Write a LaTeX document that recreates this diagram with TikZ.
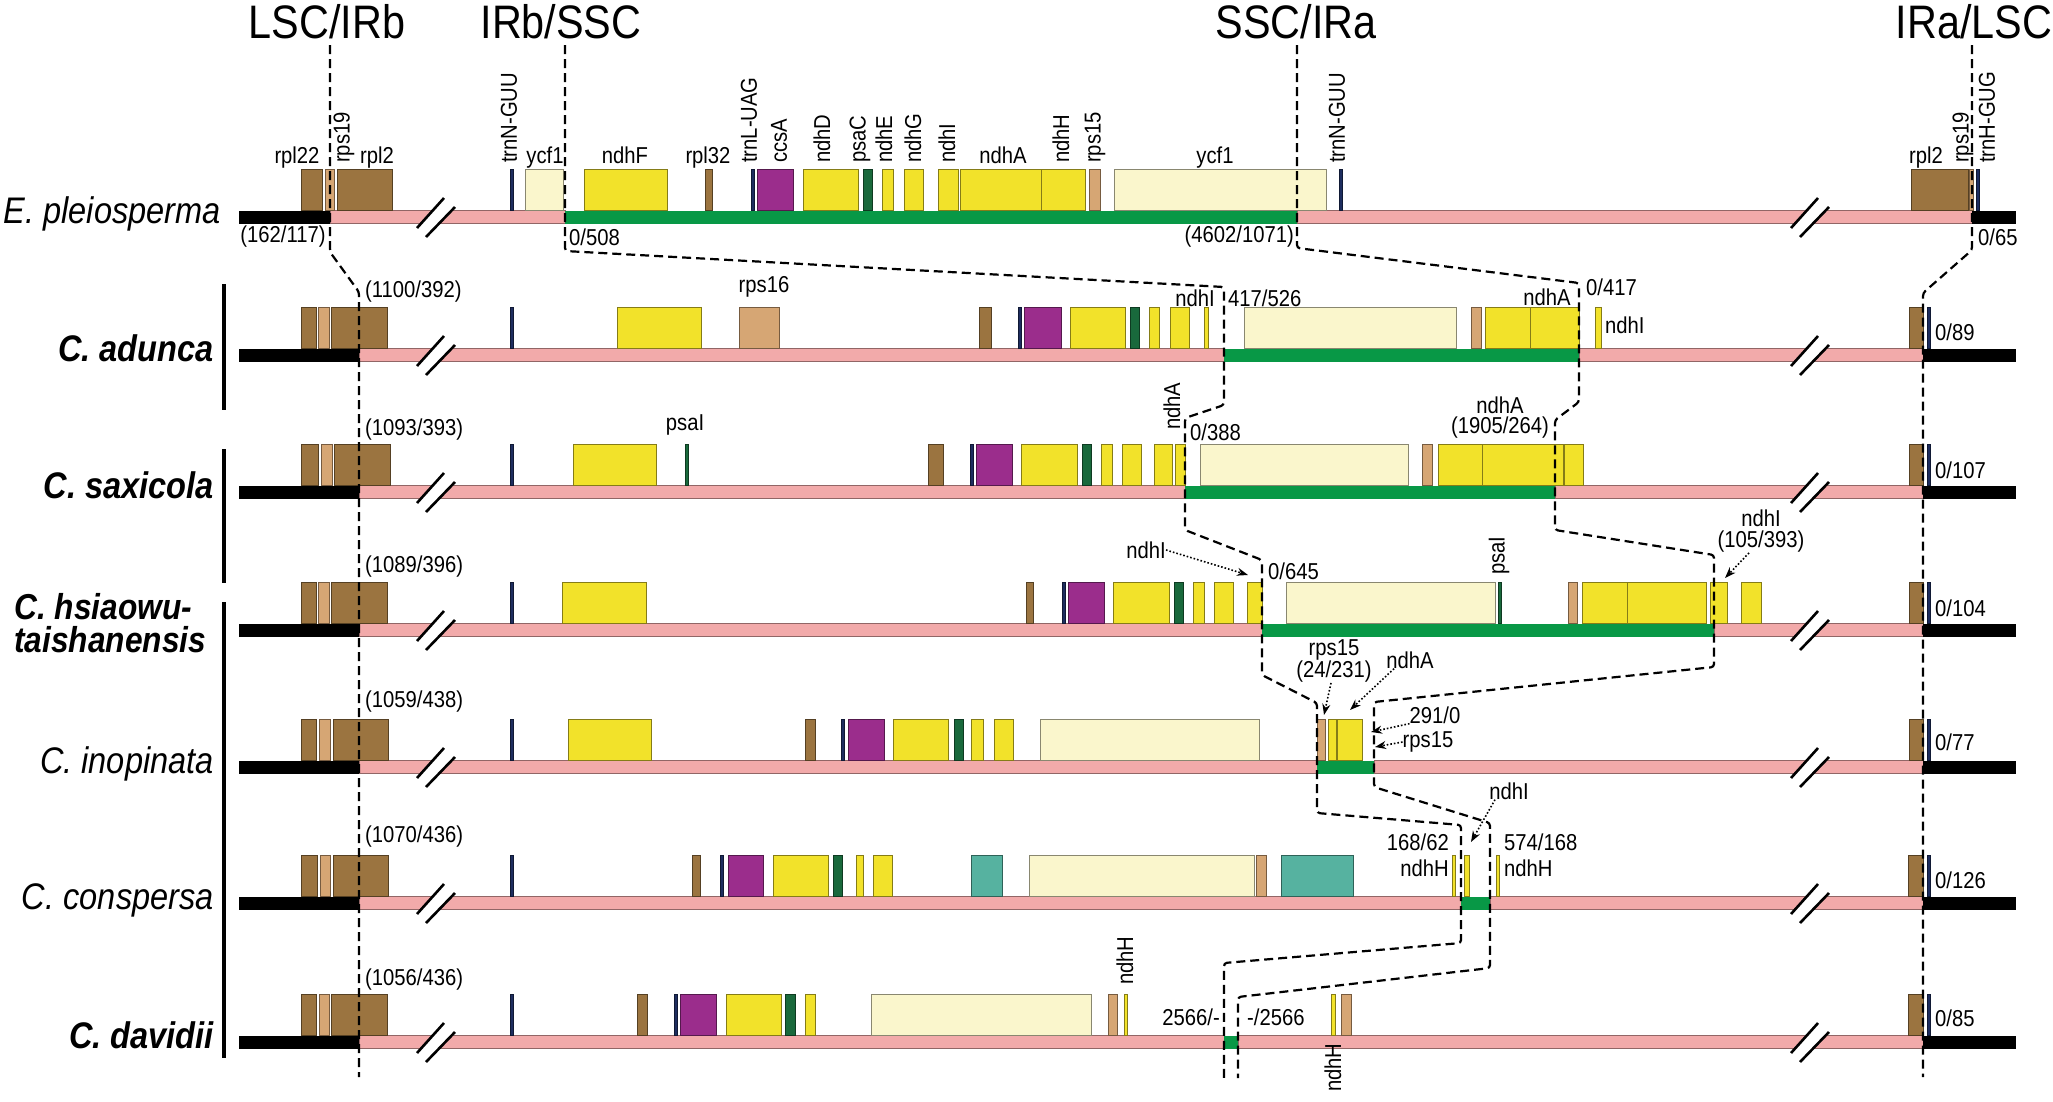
\documentclass[tikz,border=0pt]{standalone}
\usepackage{fontspec}
\setmainfont{Liberation Sans}[FakeStretch=0.88]
\usetikzlibrary{arrows.meta}

\definecolor{genebrown}{RGB}{155,116,64}
\definecolor{genetan}{RGB}{214,166,116}
\definecolor{genenavy}{RGB}{30,45,95}
\definecolor{genepale}{RGB}{250,246,204}
\definecolor{geneyellow}{RGB}{242,226,42}
\definecolor{genepurple}{RGB}{155,45,140}
\definecolor{genedkgreen}{RGB}{25,105,60}
\definecolor{geneteal}{RGB}{86,178,160}
\definecolor{irpink}{RGB}{242,170,170}
\definecolor{sscgreen}{RGB}{8,152,70}

\tikzset{
	lbl/.style={font=\fontsize{23}{26}\selectfont, inner sep=0pt},
	vlbl/.style={lbl, rotate=90, anchor=west},
	region/.style={font=\fontsize{47}{52}\selectfont, anchor=base, inner sep=0pt},
	species/.style={font=\fontsize{37}{40}\selectfont\itshape, anchor=base east, inner sep=0pt},
	boldspecies/.style={species, font=\fontsize{37}{40}\selectfont\bfseries\itshape},
	junction/.style={line width=2.2pt, dash pattern=on 9pt off 5pt, rounded corners=3pt},
	pointer/.style={line width=1.6pt, dotted, -{Stealth[length=11pt,width=8pt]}},
	group/.style={line width=3.2pt},
}

% gene boxes of one row: left/right/colour
\newcommand{\genes}[1]{\foreach \ga/\gb/\gc in {#1}{\filldraw[fill=\gc, draw=\gc!55!black, line width=0.5pt] (\ga,-6.5) rectangle (\gb,-48);}}
% break mark on the strand
\newcommand{\cut}[1]{%
	\fill[white] (#1-18,11) -- (#1+9,-19) -- (#1+20,-10) -- (#1-9,20) -- cycle;
	\draw[line width=2.6pt] (#1-18,11) -- (#1+9,-19) (#1-9,20) -- (#1+20,-10);}
% LSC | IRb | SSC | IRa | LSC
\newcommand{\strand}[4]{%
	\fill (239,-6.5) rectangle (#1,6.5);
	\filldraw[fill=irpink, draw=irpink!60!black, line width=0.5pt] (#1,-6.5) rectangle (#2,6.5);
	\fill[sscgreen] (#2,-6.5) rectangle (#3,6.5);
	\filldraw[fill=irpink, draw=irpink!60!black, line width=0.5pt] (#3,-6.5) rectangle (#4,6.5);
	\fill (#4,-6.5) rectangle (2016,6.5);
	\cut{435}\cut{1809}}

\begin{document}
\begin{tikzpicture}[x=1pt, y=-1pt]
	\useasboundingbox (0,0) rectangle (2053,1101);

	\node[region] (lscirb) at (327,38) {LSC/IRb};
	\node[region] (irbssc) at (561,38) {IRb/SSC};
	\node[region] (sscira) at (1296,38) {SSC/IRa};
	\node[region] (iralsc) at (1974,38) {IRa/LSC};

	\node[species] (pleio) at (221,223) {E. pleiosperma};
	\node[boldspecies] (adunca) at (214,361) {C. adunca};
	\node[boldspecies] (saxicola) at (214,498) {C. saxicola};
	\node[boldspecies, anchor=base west, font=\fontsize{36}{40}\selectfont\bfseries\itshape] (hsiao1) at (14,619) {C. hsiaowu-};
	\node[boldspecies, anchor=base west, font=\fontsize{36}{40}\selectfont\bfseries\itshape] (hsiao2) at (14,652) {taishanensis};
	\node[species] (inopinata) at (214,773) {C. inopinata};
	\node[species] (conspersa) at (214,909) {C. conspersa};
	\node[boldspecies] (davidii) at (214,1048) {C. davidii};

	\draw[group] (224,284) -- (224,410);
	\draw[group] (224,449) -- (224,583);
	\draw[group] (224,602) -- (224,1058);

	% E. pleiosperma
	\begin{scope}[shift={(0,217)}]
		\strand{330}{565}{1297}{1972}
		\genes{301/322/genebrown, 325/334/genetan, 337/392/genebrown, 510/513/genenavy, 525/563/genepale, 584/667/geneyellow, 705/712/genebrown, 751/754/genenavy, 757/793/genepurple, 803/858/geneyellow, 863/872/genedkgreen, 882/893/geneyellow, 904/923/geneyellow, 938/958/geneyellow, 960/1041/geneyellow, 1041/1085/geneyellow, 1089/1100/genetan, 1114/1326/genepale, 1339/1342/genenavy, 1911/1968/genebrown, 1969/1973/genetan, 1976/1979/genenavy}
		\foreach \x/\gname [count=\i] in {297/rpl22, 377/rpl2, 545/ycf1, 625/ndhF, 708/rpl32, 1003/ndhA, 1215/ycf1, 1926/rpl2}
			\node[lbl, anchor=base] (e-h\i) at (\x,-54) {\gname};
		\foreach \x/\gname [count=\i] in {344/rps19, 509/trnN-GUU, 749/trnL-UAG, 779/ccsA, 822/ndhD, 860/psaC, 884/ndhE, 913/ndhG, 947/ndhI, 1061/ndhH, 1095/rps15, 1337/trnN-GUU, 1963/rps19, 1987/trnH-GUG}
			\node[vlbl] (e-v\i) at (\x,-54) {\gname};
		\node[lbl] (e-n1) at (283,20) {(162/117)};
		\node[lbl, anchor=west] (e-n2) at (569,20) {0/508};
		\node[lbl, anchor=east] (e-n3) at (1294,20) {(4602/1071)};
		\node[lbl, anchor=west] (e-n4) at (1978,20) {0/65};
	\end{scope}

	% C. adunca
	\begin{scope}[shift={(0,355)}]
		\strand{359}{1224}{1579}{1923}
		\genes{301/316/genebrown, 318/329/genetan, 331/387/genebrown, 510/513/genenavy, 617/701/geneyellow, 739/779/genetan, 979/991/genebrown, 1018/1021/genenavy, 1024/1061/genepurple, 1070/1125/geneyellow, 1130/1139/genedkgreen, 1149/1159/geneyellow, 1170/1189/geneyellow, 1204/1208/geneyellow, 1244/1456/genepale, 1471/1481/genetan, 1485/1530/geneyellow, 1530/1579/geneyellow, 1595/1601/geneyellow, 1909/1923/genebrown, 1927/1930/genenavy}
		\node[lbl, anchor=west] (a-n1) at (365,-63) {(1100/392)};
		\node[lbl] (a-rps16) at (764,-68) {rps16};
		\node[lbl, anchor=east] (a-ndhI1) at (1215,-57) {ndhI};
		\node[lbl, anchor=west] (a-n2) at (1228,-57) {417/526};
		\node[lbl] (a-ndhA) at (1547,-58) {ndhA};
		\node[lbl, anchor=west] (a-n3) at (1586,-68) {0/417};
		\node[lbl, anchor=west] (a-ndhI2) at (1605,-30) {ndhI};
		\node[lbl, anchor=west] (a-n4) at (1935,-23) {0/89};
	\end{scope}

	% C. saxicola
	\begin{scope}[shift={(0,492)}]
		\strand{359}{1185}{1555}{1923}
		\genes{301/318/genebrown, 321/332/genetan, 334/390/genebrown, 510/513/genenavy, 573/656/geneyellow, 685/688/genedkgreen, 928/943/genebrown, 970/973/genenavy, 976/1012/genepurple, 1021/1077/geneyellow, 1082/1091/genedkgreen, 1101/1112/geneyellow, 1122/1141/geneyellow, 1154/1172/geneyellow, 1175/1185/geneyellow, 1200/1408/genepale, 1422/1432/genetan, 1438/1482/geneyellow, 1482/1563/geneyellow, 1564/1583/geneyellow, 1909/1923/genebrown, 1927/1930/genenavy}
		\node[lbl, anchor=west] (s-n1) at (365,-62) {(1093/393)};
		\node[lbl] (s-psaI) at (685,-67) {psaI};
		\node[vlbl] (s-ndhA1) at (1172,-62) {ndhA};
		\node[lbl, anchor=west] (s-n2) at (1190,-60) {0/388};
		\node[lbl] (s-ndhA2) at (1500,-87) {ndhA};
		\node[lbl] (s-n3) at (1500,-64) {(1905/264)};
		\node[lbl, anchor=west] (s-n4) at (1935,-22) {0/107};
	\end{scope}

	% C. hsiaowu-taishanensis
	\begin{scope}[shift={(0,630)}]
		\strand{359}{1262}{1714}{1923}
		\genes{301/316/genebrown, 318/329/genetan, 331/387/genebrown, 510/513/genenavy, 562/646/geneyellow, 1026/1033/genebrown, 1062/1065/genenavy, 1068/1104/genepurple, 1113/1169/geneyellow, 1174/1183/genedkgreen, 1193/1204/geneyellow, 1214/1233/geneyellow, 1247/1262/geneyellow, 1286/1495/genepale, 1498/1501/genedkgreen, 1568/1577/genetan, 1582/1627/geneyellow, 1627/1706/geneyellow, 1710/1727/geneyellow, 1741/1761/geneyellow, 1909/1923/genebrown, 1927/1930/genenavy}
		\node[lbl, anchor=west] (h-n1) at (365,-63) {(1089/396)};
		\node[lbl, anchor=east] (h-ndhI1) at (1166,-80) {ndhI};
		\coordinate (h-tip1) at (1248,-55);
		\node[lbl, anchor=west] (h-n2) at (1268,-59) {0/645};
		\node[vlbl] (h-psaI) at (1499,-55) {psaI};
		\node[lbl] (h-ndhI2) at (1761,-112) {ndhI};
		\node[lbl] (h-n3) at (1761,-88) {(105/393)};
		\coordinate (h-tip2) at (1725,-52);
		\node[lbl, anchor=west] (h-n4) at (1935,-22) {0/104};
		\draw[pointer] (h-ndhI1.east) -- (h-tip1);
		\draw[pointer] ([xshift=-12pt]h-n3.south) -- (h-tip2);
	\end{scope}

	% C. inopinata
	\begin{scope}[shift={(0,767)}]
		\strand{359}{1317}{1374}{1923}
		\genes{301/316/genebrown, 319/330/genetan, 333/388/genebrown, 510/513/genenavy, 568/651/geneyellow, 805/815/genebrown, 841/844/genenavy, 848/884/genepurple, 893/948/geneyellow, 954/963/genedkgreen, 971/983/geneyellow, 994/1013/geneyellow, 1040/1259/genepale, 1317/1325/genetan, 1328/1336/geneyellow, 1337/1362/geneyellow, 1909/1923/genebrown, 1927/1930/genenavy}
		\node[lbl, anchor=west] (i-n1) at (365,-65) {(1059/438)};
		\node[lbl] (i-rps15a) at (1334,-117) {rps15};
		\node[lbl] (i-n2) at (1334,-95) {(24/231)};
		\coordinate (i-tip1) at (1324,-52);
		\node[lbl] (i-ndhA) at (1410,-107) {ndhA};
		\coordinate (i-tip2) at (1350,-57);
		\node[lbl] (i-n3) at (1435,-52) {291/0};
		\coordinate (i-tip3) at (1371,-35);
		\node[lbl] (i-rps15b) at (1428,-25) {rps15};
		\coordinate (i-tip4) at (1375,-20);
		\node[lbl, anchor=west] (i-n4) at (1935,-25) {0/77};
		\draw[pointer] ([xshift=-3pt]i-n2.south) -- (i-tip1);
		\draw[pointer] ([xshift=-16pt]i-ndhA.south) -- (i-tip2);
		\draw[pointer] (i-n3.south west) -- (i-tip3);
		\draw[pointer] (i-rps15b.west) -- (i-tip4);
	\end{scope}

	% C. conspersa
	\begin{scope}[shift={(0,903)}]
		\strand{359}{1461}{1490}{1923}
		\genes{301/317/genebrown, 320/330/genetan, 333/388/genebrown, 510/513/genenavy, 692/700/genebrown, 720/723/genenavy, 728/763/genepurple, 773/828/geneyellow, 833/842/genedkgreen, 856/863/geneyellow, 873/892/geneyellow, 971/1002/geneteal, 1029/1254/genepale, 1256/1266/genetan, 1281/1353/geneteal, 1452/1455/geneyellow, 1464/1469/geneyellow, 1496/1499/geneyellow, 1908/1923/genebrown, 1927/1930/genenavy}
		\node[lbl, anchor=west] (c-n1) at (365,-66) {(1070/436)};
		\node[lbl, anchor=east] (c-n2) at (1449,-61) {168/62};
		\node[lbl, anchor=east] (c-ndhH1) at (1449,-35) {ndhH};
		\node[lbl, anchor=west] (c-n3) at (1504,-61) {574/168};
		\node[lbl, anchor=west] (c-ndhH2) at (1504,-35) {ndhH};
		\node[lbl] (c-ndhI) at (1509,-112) {ndhI};
		\coordinate (c-tip) at (1471,-61);
		\node[lbl, anchor=west] (c-n4) at (1935,-23) {0/126};
		\draw[pointer] ([xshift=-14pt]c-ndhI.south) -- (c-tip);
	\end{scope}

	% C. davidii
	\begin{scope}[shift={(0,1042)}]
		\strand{359}{1224}{1238}{1923}
		\genes{301/316/genebrown, 319/329/genetan, 331/387/genebrown, 510/513/genenavy, 637/647/genebrown, 674/677/genenavy, 680/716/genepurple, 726/781/geneyellow, 785/795/genedkgreen, 805/815/geneyellow, 871/1091/genepale, 1108/1117/genetan, 1124/1127/geneyellow, 1331/1335/geneyellow, 1341/1351/genetan, 1908/1923/genebrown, 1927/1930/genenavy}
		\node[lbl, anchor=west] (d-n1) at (365,-62) {(1056/436)};
		\node[vlbl] (d-ndhH1) at (1125,-57) {ndhH};
		\node[lbl, anchor=east] (d-n2) at (1220,-25) {2566/-};
		\node[lbl, anchor=west] (d-n3) at (1247,-25) {-/2566};
		\node[vlbl] (d-ndhH2) at (1333,50) {ndhH};
		\node[lbl, anchor=west] (d-n4) at (1935,-24) {0/85};
	\end{scope}

	% junctions
	\draw[junction] (330,45) -- (330,252) -- (359,292) -- (359,1077);
	\draw[junction] (565,45) -- (565,251) -- (1224,287) -- (1224,405) -- (1185,418) -- (1185,530) -- (1262,560) -- (1262,675) -- (1317,703) -- (1317,813) -- (1461,825) -- (1461,943) -- (1224,963) -- (1224,1078);
	\draw[junction] (1297,45) -- (1297,248) -- (1579,283) -- (1579,402) -- (1555,420) -- (1555,530) -- (1714,555) -- (1714,667) -- (1374,702) -- (1374,787) -- (1490,823) -- (1490,968) -- (1238,997) -- (1238,1078);
	\draw[junction] (1972,45) -- (1972,250) -- (1923,293) -- (1923,1077);
\end{tikzpicture}
\end{document}
